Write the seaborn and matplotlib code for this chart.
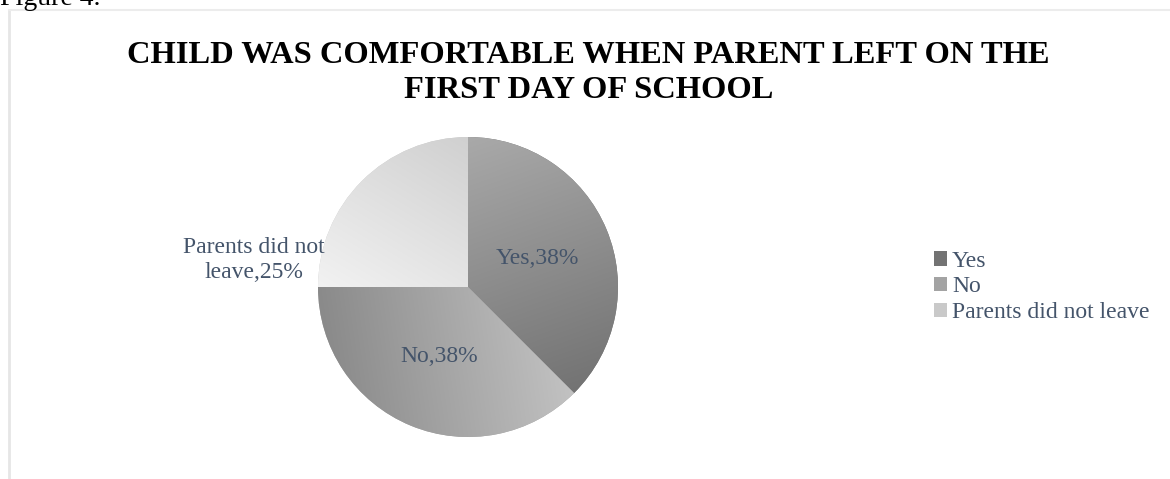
import numpy as np
import matplotlib
matplotlib.use("Agg")
import matplotlib.pyplot as plt
import seaborn as sns
from matplotlib.lines import Line2D
from matplotlib.patches import Patch

categories = ["Yes", "No", "Parents did not leave"]
values = [37.5, 37.5, 25.0]
label_names = ["Yes", "No", "Parents did not\nleave"]
legend_colors = ["#737373", "#a3a3a3", "#c9c9c9"]
title = "CHILD WAS COMFORTABLE WHEN PARENT LEFT ON THE\nFIRST DAY OF SCHOOL"

sns.set_theme(style="white")
plt.rcParams["font.family"] = ["Liberation Serif", "DejaVu Serif"]

TXT = "#44546A"
fig = plt.figure(figsize=(11.7, 4.79), dpi=100)
fig.patch.set_facecolor("white")

# frame lines
fig.add_artist(Line2D([9/1170, 9/1170], [0, 1 - 10/479], transform=fig.transFigure, color="#e6e6e6", lw=2))
fig.add_artist(Line2D([9/1170, 1], [1 - 10/479, 1 - 10/479], transform=fig.transFigure, color="#ececec", lw=1.5))
fig.text(0.0, 1 - 5/479, "Figure 4.", fontsize=20, color="black", ha="left", va="baseline")

fig.text(0.503, 1 - 73/479, title, ha="center", va="center", fontsize=23.4,
         fontweight="bold", color="black", linespacing=1.25)

ax = fig.add_axes([(468 - 150) / 1170, (479 - 437) / 479, 300 / 1170, 300 / 479])
wedges, _ = ax.pie(values, colors=legend_colors, startangle=90, counterclock=False,
                   radius=1.0, wedgeprops=dict(linewidth=0))
ax.set_xlim(-1, 1)
ax.set_ylim(-1, 1)
ax.set_aspect("equal")
ax.axis("off")

# gradient fills per wedge: (start color, end color, direction vector)
grads = [("#a9a9a9", "#737373", (0.35, -1.0)),
         ("#8a8a8a", "#c2c2c2", (1.0, 0.15)),
         ("#f2f2f2", "#d0d0d0", (0.6, 1.0))]
n = 300
xs = np.linspace(-1, 1, n)
X, Y = np.meshgrid(xs, xs[::-1])
for w, (c0, c1, d) in zip(wedges, grads):
    d = np.array(d) / np.hypot(*d)
    t = X * d[0] + Y * d[1]
    th1, th2 = np.deg2rad(w.theta1), np.deg2rad(w.theta2)
    angs = np.linspace(th1, th2, 100)
    px = np.concatenate([[0], np.cos(angs)])
    py = np.concatenate([[0], np.sin(angs)])
    proj = px * d[0] + py * d[1]
    t = np.clip((t - proj.min()) / (proj.max() - proj.min()), 0, 1)
    a = np.array(matplotlib.colors.to_rgb(c0))
    b = np.array(matplotlib.colors.to_rgb(c1))
    img = a[None, None, :] * (1 - t[..., None]) + b[None, None, :] * t[..., None]
    im = ax.imshow(img, extent=(-1, 1, -1, 1), zorder=2, interpolation="bilinear")
    im.set_clip_path(w)

# data labels
for i, (w, v) in enumerate(zip(wedges, values)):
    mid = np.deg2rad((w.theta1 + w.theta2) / 2)
    lab = f"{label_names[i]},{v:.0f}%"
    if i < 2:
        x, y = 0.5 * np.cos(mid), 0.5 * np.sin(mid)
        ax.text(x, y, lab, ha="center", va="center", fontsize=17, color=TXT, zorder=5)
    else:
        ax.text(-1.43, 0.18, lab, ha="center", va="center", fontsize=17, color=TXT,
                zorder=5, linespacing=1.2, clip_on=False)

handles = [Patch(facecolor=c, edgecolor="none") for c in legend_colors]
fig.legend(handles, categories, loc="center left", bbox_to_anchor=(913 / 1170, 1 - 287 / 479),
           frameon=False, fontsize=17, labelcolor=TXT, handlelength=0.55, handleheight=0.55,
           handletextpad=0.2, labelspacing=0.2)

fig.savefig("out.png", dpi=100, facecolor="white")
